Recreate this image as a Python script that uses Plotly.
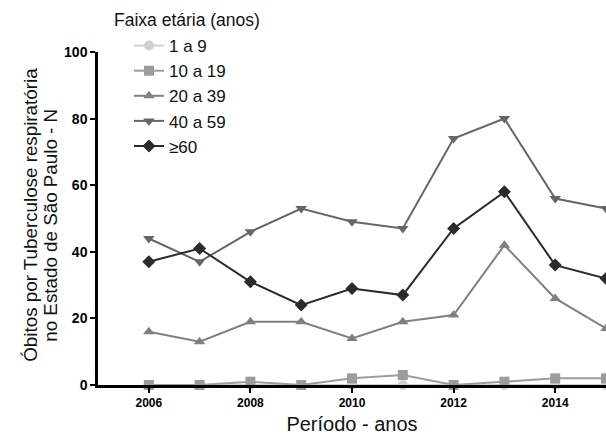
import plotly.graph_objects as go

years = [2006, 2007, 2008, 2009, 2010, 2011, 2012, 2013, 2014, 2015]
age_1_9 = [0, 0, 0, 0, 0, 0, 0, 0, 0, 0]
age_10_19 = [0, 0, 1, 0, 2, 3, 0, 1, 2, 2]
age_20_39 = [16, 13, 19, 19, 14, 19, 21, 42, 26, 17]
age_40_59 = [44, 37, 46, 53, 49, 47, 74, 80, 56, 53]
age_60 = [37, 41, 31, 24, 29, 27, 47, 58, 36, 32]

series = [
    ("1 a 9", age_1_9, "#cfcfcf", "circle"),
    ("10 a 19", age_10_19, "#9c9c9c", "square"),
    ("20 a 39", age_20_39, "#808080", "triangle-up"),
    ("40 a 59", age_40_59, "#666666", "triangle-down"),
    ("≥60", age_60, "#2b2b2b", "diamond"),
]

FONT = "Liberation Sans, Arial, sans-serif"
L, R, T, B = 98, 0, 52, 53.5
W, H = 606, 439
PW, PH = W - L - R, H - T - B

def px_x(px):
    return (px - L) / PW

def px_y(py):
    return (H - B - py) / PH

fig = go.Figure()
for i, (name, vals, col, sym) in enumerate(series):
    fig.add_trace(go.Scatter(
        x=years, y=vals, name=name, mode="lines+markers",
        line=dict(color=col, width=2),
        marker=dict(symbol=sym, size=10, color=col),
        legendgroup=str(i), cliponaxis=False,
    ))

annotations = [
    dict(text="Faixa etária (anos)", xref="paper", yref="paper",
         x=px_x(112), y=px_y(20), xanchor="left", yanchor="middle",
         showarrow=False, font=dict(size=17.5)),
    dict(text="Óbitos por Tuberculose respiratória", xref="paper", yref="paper",
         x=px_x(31), y=px_y(215), xanchor="center", yanchor="middle",
         textangle=-90, showarrow=False, font=dict(size=18.8)),
    dict(text="no Estado de São Paulo - N", xref="paper", yref="paper",
         x=px_x(51), y=px_y(226), xanchor="center", yanchor="middle",
         textangle=-90, showarrow=False, font=dict(size=18.8)),
]

fig.update_layout(
    width=W, height=H,
    margin=dict(l=L, r=R, t=T, b=B),
    paper_bgcolor="white", plot_bgcolor="white",
    font=dict(family=FONT, size=16, color="#111111"),
    showlegend=True,
    annotations=annotations,
    legend=dict(
        x=px_x(129), y=px_y(28), xanchor="left", yanchor="top",
        font=dict(size=17), traceorder="grouped", tracegroupgap=0,
        bgcolor="rgba(0,0,0,0)",
    ),
    xaxis=dict(
        range=[2005, 2015], tickmode="array", tickvals=[2006, 2008, 2010, 2012, 2014],
        showgrid=False, zeroline=False, showline=True, linecolor="black", linewidth=2.5,
        ticks="outside", ticklen=5, tickwidth=2, tickcolor="black",
        tickfont=dict(size=12, weight="bold", color="black"),
        title=dict(text="Período - anos", font=dict(size=20), standoff=8),
    ),
    yaxis=dict(
        range=[0, 100], tickvals=[0, 20, 40, 60, 80, 100],
        showgrid=False, zeroline=False, showline=True, linecolor="black", linewidth=2.5,
        ticks="outside", ticklen=5, tickwidth=2, tickcolor="black",
        tickfont=dict(size=14, weight="bold", color="black"),
    ),
)

fig.write_html("out.html")
